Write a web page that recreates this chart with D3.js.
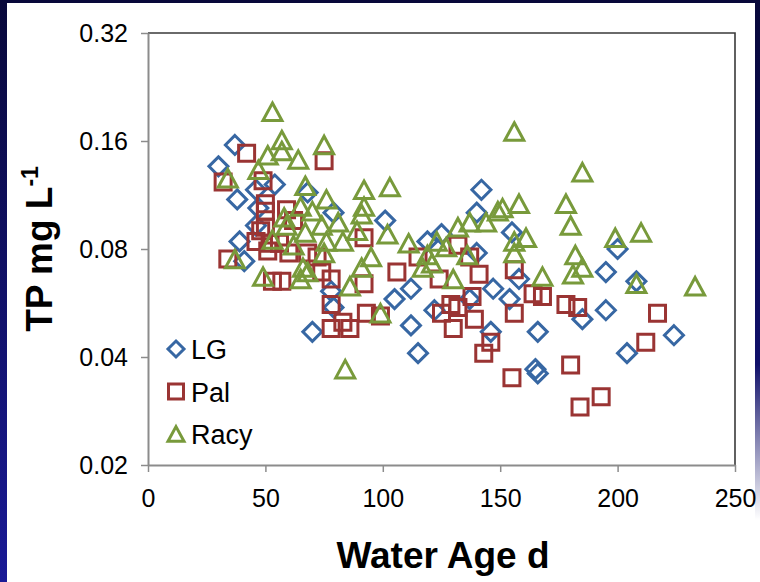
<!DOCTYPE html>
<html>
<head>
<meta charset="utf-8">
<script src="https://cdn.jsdelivr.net/npm/d3@7"></script>
<style>
  html, body { margin: 0; padding: 0; background: #ffffff; }
  svg { display: block; }
  text { font-family: "Liberation Sans", Arial, sans-serif; fill: #000; }
</style>
</head>
<body>
<svg id="chart" width="760" height="582"></svg>
<script>
// Water age (days) and total phosphorus (mg/L) for three sites
const seriesNames = ["LG", "Pal", "Racy"];

const lgAge = [37, 30, 54, 46, 68, 38, 47, 79, 46, 39, 41, 78, 79, 70, 142, 101, 140, 125, 119, 140, 155, 147, 112, 105, 122, 112, 115, 137, 154, 146, 158, 166, 195, 208, 200, 195, 185, 204, 165, 166, 224];
const lgTP  = [0.156, 0.136, 0.121, 0.117, 0.115, 0.110, 0.104, 0.101, 0.093, 0.084, 0.074, 0.061, 0.055, 0.047, 0.117, 0.096, 0.101, 0.088, 0.084, 0.078, 0.089, 0.062, 0.062, 0.058, 0.054, 0.049, 0.041, 0.058, 0.058, 0.047, 0.066, 0.047, 0.069, 0.065, 0.080, 0.054, 0.051, 0.041, 0.037, 0.036, 0.046];

const palAge = [42, 75, 32, 49, 50, 50, 59, 62, 50, 48, 46, 56, 52, 51, 60, 68, 34, 72, 53, 57, 78, 74, 78, 78, 92, 115, 132, 137, 106, 124, 141, 92, 138, 129, 132, 125, 99, 93, 83, 86, 130, 139, 146, 143, 156, 164, 168, 178, 183, 156, 180, 155, 193, 184, 217, 212];
const palTP  = [0.148, 0.141, 0.123, 0.124, 0.107, 0.102, 0.103, 0.096, 0.092, 0.090, 0.084, 0.083, 0.083, 0.079, 0.078, 0.078, 0.075, 0.076, 0.065, 0.065, 0.066, 0.069, 0.056, 0.048, 0.086, 0.076, 0.082, 0.076, 0.069, 0.066, 0.068, 0.064, 0.059, 0.056, 0.055, 0.053, 0.052, 0.053, 0.050, 0.048, 0.048, 0.051, 0.044, 0.041, 0.070, 0.060, 0.059, 0.056, 0.055, 0.053, 0.038, 0.035, 0.031, 0.029, 0.053, 0.044];

const racyAge = [53, 57, 57, 75, 51, 64, 34, 47, 67, 76, 65, 70, 58, 74, 59, 67, 53, 62, 76, 75, 37, 66, 68, 49, 65, 92, 103, 92, 91, 81, 89, 102, 83, 137, 144, 132, 149, 111, 123, 127, 136, 119, 121, 117, 95, 91, 130, 86, 99, 84, 156, 151, 158, 185, 178, 180, 161, 156, 156, 199, 210, 182, 185, 181, 168, 208, 233];
const racyTP  = [0.193, 0.161, 0.150, 0.156, 0.146, 0.142, 0.126, 0.133, 0.120, 0.110, 0.105, 0.102, 0.098, 0.093, 0.093, 0.089, 0.085, 0.082, 0.084, 0.078, 0.075, 0.071, 0.069, 0.067, 0.066, 0.117, 0.119, 0.105, 0.100, 0.095, 0.090, 0.088, 0.084, 0.095, 0.095, 0.092, 0.102, 0.083, 0.084, 0.081, 0.077, 0.077, 0.073, 0.071, 0.076, 0.071, 0.066, 0.063, 0.053, 0.037, 0.170, 0.104, 0.107, 0.131, 0.107, 0.093, 0.086, 0.084, 0.078, 0.086, 0.089, 0.077, 0.071, 0.068, 0.067, 0.064, 0.063];

const xTicks = [0, 50, 100, 150, 200, 250];
const yTicks = [0.02, 0.04, 0.08, 0.16, 0.32];
const yTickLabels = ["0.02", "0.04", "0.08", "0.16", "0.32"];

const colors = { LG: "#3767a3", Pal: "#9a3433", Racy: "#789a3b" };

const svg = d3.select("#chart");
const W = 760, H = 582;
const plot = { left: 148, right: 735, top: 33, bottom: 465 };

// slide border
const defs = svg.append("defs");
const gl = defs.append("linearGradient").attr("id", "edgeGrad")
  .attr("x1", 0).attr("y1", 0).attr("x2", 0).attr("y2", 1);
gl.append("stop").attr("offset", "0%").attr("stop-color", "#08083a");
gl.append("stop").attr("offset", "100%").attr("stop-color", "#1a1a96");
const gr = defs.append("linearGradient").attr("id", "rightGrad")
  .attr("x1", 0).attr("y1", 0).attr("x2", 0).attr("y2", 1);
gr.append("stop").attr("offset", "0%").attr("stop-color", "#08083a").attr("stop-opacity", 1);
gr.append("stop").attr("offset", "70%").attr("stop-color", "#10106a").attr("stop-opacity", 1);
gr.append("stop").attr("offset", "100%").attr("stop-color", "#10106a").attr("stop-opacity", 0);
svg.append("rect").attr("x", 0).attr("y", 0).attr("width", W).attr("height", 3).attr("fill", "#08083a");
svg.append("rect").attr("x", 0).attr("y", 0).attr("width", 7).attr("height", H).attr("fill", "url(#edgeGrad)");
svg.append("rect").attr("x", W - 5).attr("y", 0).attr("width", 5).attr("height", 520).attr("fill", "url(#rightGrad)");

const x = d3.scaleLinear().domain([0, 250]).range([plot.left, plot.right]);
const y = d3.scaleLog().base(2).domain([0.02, 0.32]).range([plot.bottom, plot.top]);

// plot frame (top and right edges)
svg.append("path")
  .attr("d", `M${plot.left},${plot.top}H${plot.right}V${plot.bottom}`)
  .attr("fill", "none").attr("stroke", "#3a3a3a").attr("stroke-width", 1.6);

// axes
const yAxis = d3.axisLeft(y).tickValues(yTicks)
  .tickFormat((d, i) => yTickLabels[i]).tickSize(7).tickSizeOuter(0).tickPadding(13);
const xAxis = d3.axisBottom(x).tickValues(xTicks)
  .tickFormat(d3.format("d")).tickSize(7).tickSizeOuter(0).tickPadding(12);

const gy = svg.append("g").attr("transform", `translate(${plot.left},0)`).call(yAxis);
const gx = svg.append("g").attr("transform", `translate(0,${plot.bottom})`).call(xAxis);
[gx, gy].forEach(g => {
  g.select(".domain").attr("stroke", "#8c8c8c").attr("stroke-width", 2);
  g.selectAll(".tick line").attr("stroke", "#8c8c8c").attr("stroke-width", 1.5);
  g.selectAll(".tick text").attr("font-size", 25).attr("fill", "#000")
    .style("font-family", '"Liberation Sans", Arial, sans-serif');
});
gx.selectAll(".tick text").attr("dy", "0.9em");

// marker shapes
const diamondType = { draw(ctx, size) { const r = Math.sqrt(size) / 2;
  ctx.moveTo(0, -r); ctx.lineTo(r, 0); ctx.lineTo(0, r); ctx.lineTo(-r, 0); ctx.closePath(); } };
const squareType = { draw(ctx, size) { const r = Math.sqrt(size) / 2;
  ctx.moveTo(-r, -r); ctx.lineTo(r, -r); ctx.lineTo(r, r); ctx.lineTo(-r, r); ctx.closePath(); } };
const triangleType = { draw(ctx, size) { const w = Math.sqrt(size) / 2, h = Math.sqrt(size) * 0.46;
  ctx.moveTo(0, -h); ctx.lineTo(w, h); ctx.lineTo(-w, h); ctx.closePath(); } };

const series = [
  { name: "LG", ages: lgAge, tps: lgTP, type: diamondType, size: 19 * 19 },
  { name: "Pal", ages: palAge, tps: palTP, type: squareType, size: 16 * 16 },
  { name: "Racy", ages: racyAge, tps: racyTP, type: triangleType, size: 19 * 19 }
];

series.forEach(s => {
  const pts = s.ages.map((a, i) => ({ age: a, tp: s.tps[i] }));
  svg.append("g").selectAll("path").data(pts).join("path")
    .attr("d", d3.symbol(s.type, s.size))
    .attr("transform", d => `translate(${x(d.age)},${y(d.tp)})`)
    .attr("fill", "none").attr("stroke", colors[s.name]).attr("stroke-width", 3);
});

// legend
const legend = svg.append("g").attr("transform", "translate(176,349)");
series.forEach((s, i) => {
  const g = legend.append("g").attr("transform", `translate(0,${i * 42.5})`);
  g.append("path").attr("d", d3.symbol(s.type, s.name === "Pal" ? 15 * 15 : 16 * 16))
    .attr("fill", "none").attr("stroke", colors[s.name]).attr("stroke-width", 3);
  g.append("text").attr("x", 15).attr("y", 10).attr("font-size", 27).text(s.name);
});

// axis titles
svg.append("text").attr("x", 443).attr("y", 568)
  .attr("text-anchor", "middle").attr("font-size", 37).attr("font-weight", "bold")
  .text("Water Age d");

const yt = svg.append("text")
  .attr("transform", `translate(52,${(plot.top + plot.bottom) / 2}) rotate(-90)`)
  .attr("text-anchor", "middle").attr("font-size", 37).attr("font-weight", "bold");
yt.append("tspan").text("TP mg L");
yt.append("tspan").attr("font-size", 23).attr("dy", -14).text("-1");
</script>
</body>
</html>
